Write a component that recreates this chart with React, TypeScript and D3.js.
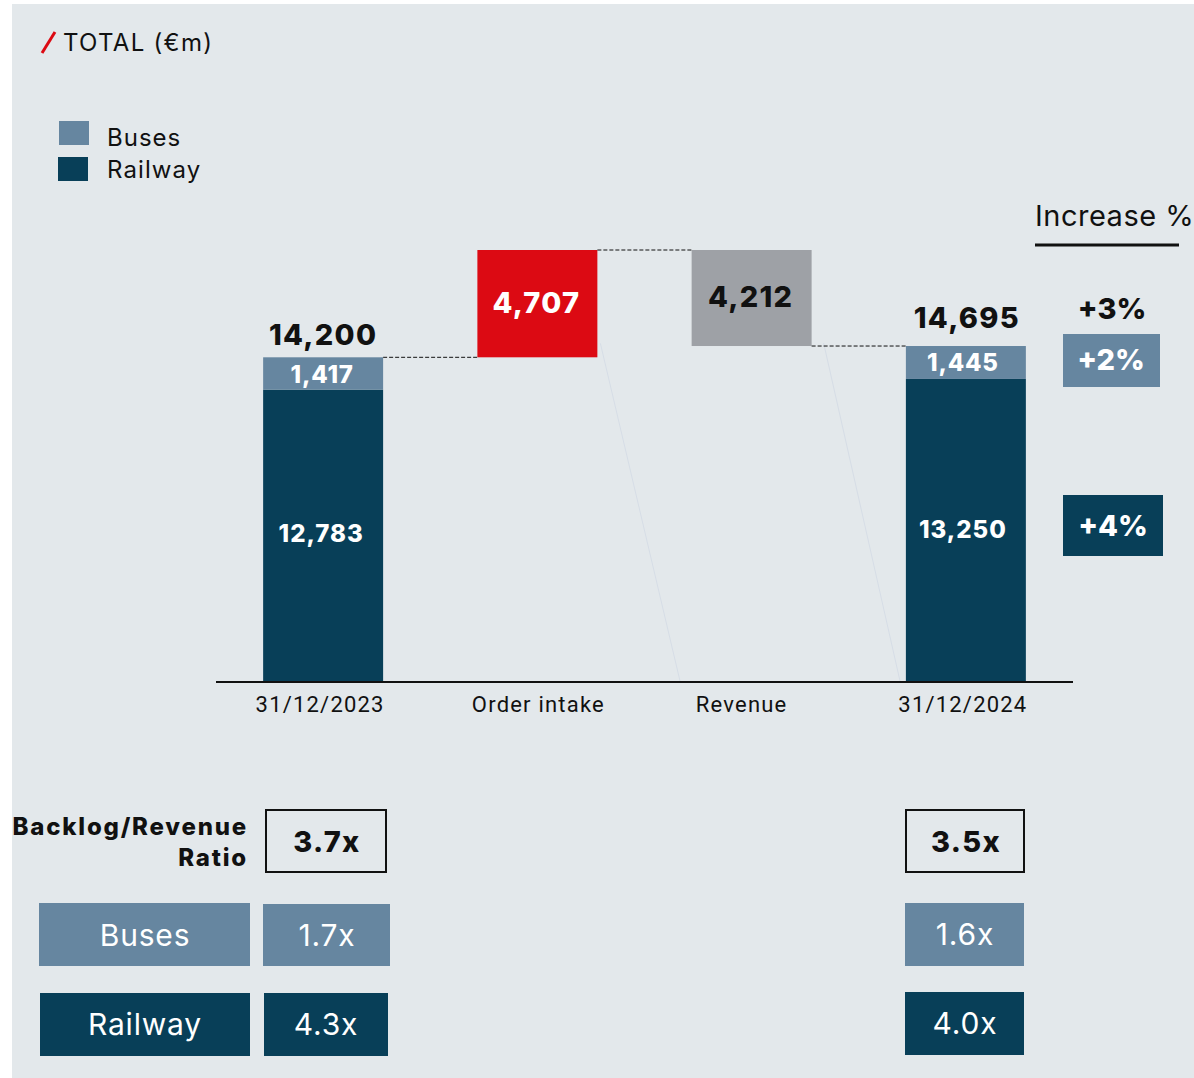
import React from "react";
import * as d3 from "d3";

const categories = ["31/12/2023", "Order intake", "Revenue", "31/12/2024"];
const railwayValues = [12783, 13250];
const busesValues = [1417, 1445];
const orderIntake = 4707;
const revenue = 4212;
const increaseLabels = ["+3%", "+2%", "+4%"];
const ratioTotal = ["3.7x", "3.5x"];
const ratioBuses = ["1.7x", "1.6x"];
const ratioRailway = ["4.3x", "4.0x"];

const W = 1194;
const H = 1078;
const BG = "#e3e8eb";
const BUS = "#6686a0";
const RAIL = "#083f58";
const RED = "#dc0a13";
const GREY = "#9ea1a6";
const FONT = "Inter, 'Noto Sans', sans-serif";
const TICKFONT = "Roboto, 'Noto Sans', sans-serif";

const fmt = d3.format(",");

export default function App() {
  const total0 = railwayValues[0] + busesValues[0];
  const total1 = railwayValues[1] + busesValues[1];
  const peak = total0 + orderIntake;

  const x = d3
    .scaleBand<string>()
    .domain(categories)
    .range([216, 1073])
    .paddingInner(0.44)
    .paddingOuter(0.22);
  const y = d3.scaleLinear().domain([0, peak]).range([681, 250]);
  const bw = x.bandwidth();
  const cx = (c: string) => (x(c) as number) + bw / 2;

  const c0 = categories[0], c1 = categories[1], c2 = categories[2], c3 = categories[3];
  const afterRevenue = peak - revenue;
  const tickNudge = [-3, 1, -10, -3];

  const dash = "4,2";
  const BW = 800; // heavy weight
  const bls = 1.3; // bold letter spacing

  return (
    <svg
      width={W}
      height={H}
      style={{ position: "absolute", left: 0, top: 0 }}
      fontFamily={FONT}
    >
      <rect x={0} y={0} width={W} height={H} fill="#ffffff" />
      <rect x={12} y={4} width={W - 12} height={H - 4} fill={BG} />

      {/* Title */}
      <line x1={42} y1={53} x2={55} y2={32} stroke={RED} strokeWidth={3} />
      <text x={63} y={51} fontSize={24} letterSpacing={1.3} fill="#111">TOTAL (€m)</text>

      {/* Legend */}
      <rect x={59} y={121} width={30} height={24} fill={BUS} />
      <text x={107} y={146} fontSize={24} letterSpacing={1} fill="#111">Buses</text>
      <rect x={58} y={157} width={30} height={24} fill={RAIL} />
      <text x={107} y={178} fontSize={24} letterSpacing={1.1} fill="#111">Railway</text>

      {/* faint diagonal lines */}
      <line x1={(x(c1) as number) + bw + 3} y1={y(total0) - 14} x2={680} y2={y(0)} stroke="#d6dde6" strokeWidth={1} />
      <line x1={(x(c2) as number) + bw + 12} y1={y(afterRevenue) - 3} x2={900} y2={y(0)} stroke="#d6dde6" strokeWidth={1} />

      {/* Start bar */}
      <rect x={x(c0)} y={y(railwayValues[0])} width={bw} height={y(0) - y(railwayValues[0])} fill={RAIL} />
      <rect x={x(c0)} y={y(total0)} width={bw} height={y(railwayValues[0]) - y(total0)} fill={BUS} />

      {/* Order intake */}
      <rect x={x(c1)} y={y(peak)} width={bw} height={y(total0) - y(peak)} fill={RED} />
      {/* Revenue */}
      <rect x={x(c2)} y={y(peak)} width={bw} height={y(afterRevenue) - y(peak)} fill={GREY} />

      {/* End bar */}
      <rect x={x(c3)} y={y(railwayValues[1])} width={bw} height={y(0) - y(railwayValues[1])} fill={RAIL} />
      <rect x={x(c3)} y={y(total1)} width={bw} height={y(railwayValues[1]) - y(total1)} fill={BUS} />

      {/* connectors */}
      <line x1={(x(c0) as number) + bw} x2={x(c1)} y1={y(total0)} y2={y(total0)} stroke="#111" strokeDasharray={dash} />
      <line x1={(x(c1) as number) + bw} x2={x(c2)} y1={y(peak)} y2={y(peak)} stroke="#111" strokeDasharray={dash} />
      <line x1={(x(c2) as number) + bw} x2={x(c3)} y1={y(afterRevenue)} y2={y(afterRevenue)} stroke="#111" strokeDasharray={dash} />

      {/* Axis */}
      <line x1={216} x2={1073} y1={y(0) + 1} y2={y(0) + 1} stroke="#111" strokeWidth={2} />
      {categories.map((c, i) => (
        <text key={c} x={cx(c) + tickNudge[i]} y={712} fontSize={22} letterSpacing={1.2} fontFamily={TICKFONT} textAnchor="middle" fill="#111">
          {c}
        </text>
      ))}

      {/* bar labels */}
      <g fontWeight={BW} textAnchor="middle" letterSpacing={bls}>
        <text x={cx(c0)} y={345} fontSize={29} fill="#111">{fmt(total0)}</text>
        <text x={cx(c0) - 1} y={383} fontSize={24} letterSpacing={0.8} fill="#fff">{fmt(busesValues[0])}</text>
        <text x={cx(c0) - 2} y={542} fontSize={24} letterSpacing={1} fill="#fff">{fmt(railwayValues[0])}</text>
        <text x={cx(c1) - 1} y={313} fontSize={29} fill="#fff">{fmt(orderIntake)}</text>
        <text x={cx(c2) - 1} y={307} fontSize={29} fill="#111">{fmt(revenue)}</text>
        <text x={cx(c3) + 1} y={328} fontSize={29} fill="#111">{fmt(total1)}</text>
        <text x={cx(c3) - 3} y={371} fontSize={24} letterSpacing={0.8} fill="#fff">{fmt(busesValues[1])}</text>
        <text x={cx(c3) - 3} y={538} fontSize={24} letterSpacing={1} fill="#fff">{fmt(railwayValues[1])}</text>
      </g>

      {/* Increase % */}
      <text x={1035} y={226} fontSize={29} letterSpacing={0.5} fill="#111">Increase %</text>
      <line x1={1035} x2={1179} y1={245} y2={245} stroke="#111" strokeWidth={3} />
      <g fontSize={29} fontWeight={BW} textAnchor="middle">
        <text x={1112} y={319} fill="#111">{increaseLabels[0]}</text>
        <rect x={1063} y={334} width={97} height={53} fill={BUS} />
        <text x={1111} y={370} fill="#fff">{increaseLabels[1]}</text>
        <rect x={1063} y={495} width={100} height={61} fill={RAIL} />
        <text x={1113} y={536} fill="#fff">{increaseLabels[2]}</text>
      </g>

      {/* Bottom table */}
      <g fontWeight={BW} letterSpacing={1.8} textAnchor="end" fill="#111">
        <text x={248} y={835} fontSize={24}>Backlog/Revenue</text>
        <text x={248} y={866} fontSize={24}>Ratio</text>
      </g>

      <rect x={266} y={810} width={120} height={62} fill="none" stroke="#111" strokeWidth={2} />
      <text x={327} y={852} fontSize={29} fontWeight={BW} letterSpacing={bls} textAnchor="middle" fill="#111">{ratioTotal[0]}</text>
      <rect x={906} y={810} width={118} height={62} fill="none" stroke="#111" strokeWidth={2} />
      <text x={966} y={852} fontSize={29} fontWeight={BW} letterSpacing={bls} textAnchor="middle" fill="#111">{ratioTotal[1]}</text>

      <g fontSize={30} textAnchor="middle" fill="#fff" letterSpacing={0.8}>
        <rect x={39} y={903} width={211} height={63} fill={BUS} />
        <text x={145} y={946}>Buses</text>
        <rect x={263} y={904} width={127} height={62} fill={BUS} />
        <text x={327} y={946}>{ratioBuses[0]}</text>
        <rect x={905} y={903} width={119} height={63} fill={BUS} />
        <text x={965} y={945}>{ratioBuses[1]}</text>

        <rect x={40} y={993} width={210} height={63} fill={RAIL} />
        <text x={145} y={1035}>Railway</text>
        <rect x={264} y={993} width={124} height={63} fill={RAIL} />
        <text x={326} y={1035}>{ratioRailway[0]}</text>
        <rect x={905} y={992} width={119} height={63} fill={RAIL} />
        <text x={965} y={1034}>{ratioRailway[1]}</text>
      </g>
    </svg>
  );
}
